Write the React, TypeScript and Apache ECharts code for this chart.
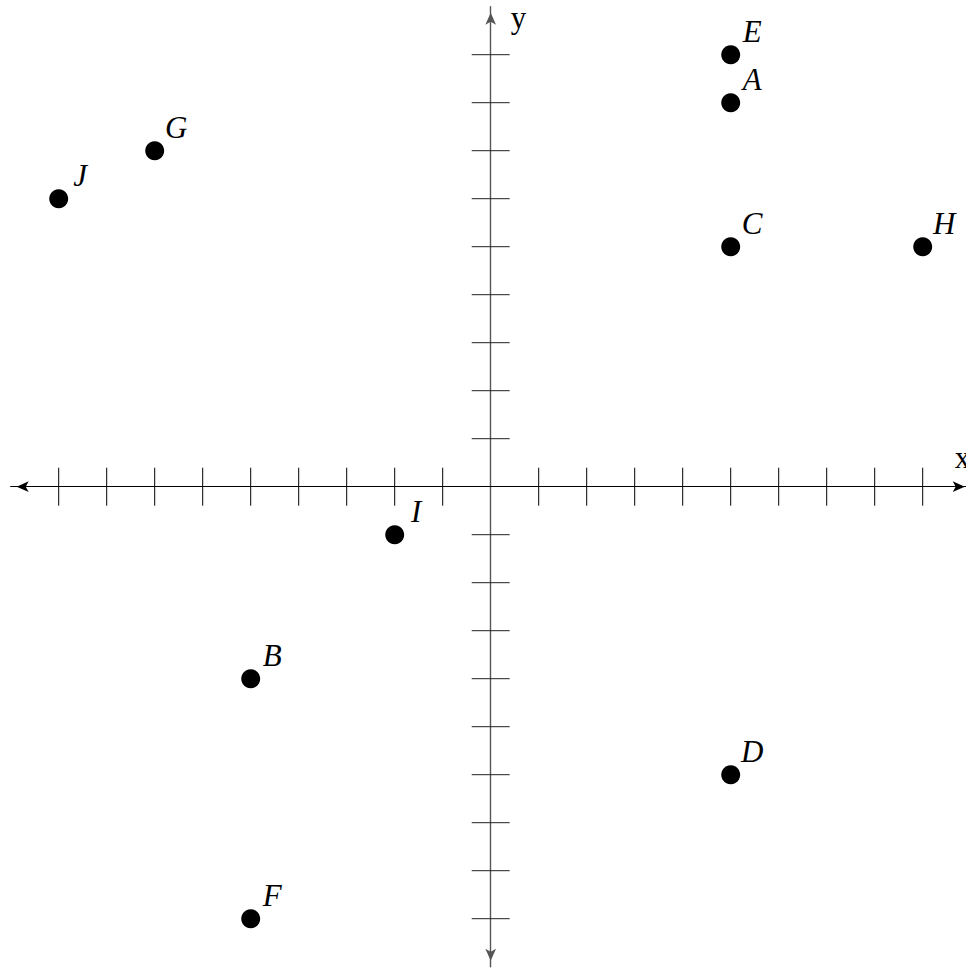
import React, { useEffect, useRef } from "react";
import * as echarts from "echarts";

const pointNames = ["E", "A", "C", "H", "G", "J", "I", "B", "D", "F"];
const pointX = [5, 5, 5, 9, -7, -9, -2, -5, 5, -5];
const pointY = [9, 8, 5, 5, 7, 6, -1, -4, -6, -9];
const xTicks = [-9, -8, -7, -6, -5, -4, -3, -2, -1, 1, 2, 3, 4, 5, 6, 7, 8, 9];
const yTicks = [-9, -8, -7, -6, -5, -4, -3, -2, -1, 1, 2, 3, 4, 5, 6, 7, 8, 9];
const axisMin = -10;
const axisMax = 10;

const FONT = "Liberation Serif";

export default function App() {
  const ref = useRef<HTMLDivElement>(null);
  useEffect(() => {
    if (!ref.current) return;
    const chart = echarts.init(ref.current, undefined, { renderer: "svg" });
    const pts = pointNames.map((n, i) => ({ name: n, value: [pointX[i], pointY[i]] }));
    const tickLen = 19;
    chart.setOption({
      animation: false,
      backgroundColor: "#fff",
      grid: {
        left: 10.7,
        top: 6.7,
        width: 960,
        height: 960,
        containLabel: false,
        outerBoundsMode: "none",
      },
      xAxis: {
        type: "value",
        min: axisMin,
        max: axisMax,
        interval: 1,
        name: "x",
        nameLocation: "end",
        nameGap: -16,
        nameTextStyle: {
          fontFamily: FONT,
          fontSize: 31,
          color: "#000",
          align: "left",
          verticalAlign: "bottom",
          padding: [0, 0, 14, 0],
        },
        axisLine: {
          onZero: true,
          symbol: ["arrow", "arrow"],
          symbolSize: [8, 12],
          symbolOffset: [6, -6],
          lineStyle: { color: "#000", width: 1.2 },
        },
        axisTick: { show: false },
        axisLabel: { show: false },
        splitLine: { show: false },
      },
      yAxis: {
        type: "value",
        min: axisMin,
        max: axisMax,
        interval: 1,
        name: "y",
        nameLocation: "end",
        nameGap: 0,
        nameTextStyle: {
          fontFamily: FONT,
          fontSize: 31,
          color: "#000",
          align: "left",
          verticalAlign: "top",
          padding: [-5, 0, 0, 20],
        },
        axisLine: {
          onZero: true,
          symbol: ["arrow", "arrow"],
          symbolSize: [8, 12],
          symbolOffset: [6, -6],
          lineStyle: { color: "#555", width: 1.4 },
        },
        axisTick: { show: false },
        axisLabel: { show: false },
        splitLine: { show: false },
      },
      series: [
        {
          type: "custom",
          data: xTicks.map((v) => [v, 0]),
          silent: true,
          renderItem: (params: any, api: any) => {
            const p = api.coord([api.value(0), api.value(1)]);
            return {
              type: "line",
              shape: { x1: p[0], y1: p[1] - tickLen, x2: p[0], y2: p[1] + tickLen },
              style: { stroke: "#000", lineWidth: 1 },
            };
          },
        },
        {
          type: "custom",
          data: yTicks.map((v) => [0, v]),
          silent: true,
          renderItem: (params: any, api: any) => {
            const p = api.coord([api.value(0), api.value(1)]);
            return {
              type: "line",
              shape: { x1: p[0] - tickLen, y1: p[1], x2: p[0] + tickLen, y2: p[1] },
              style: { stroke: "#222", lineWidth: 1 },
            };
          },
        },
        {
          type: "scatter",
          data: pts,
          symbol: "circle",
          symbolSize: 19,
          itemStyle: { color: "#000", opacity: 1 },
          label: {
            show: true,
            formatter: "{b}",
            position: [31, 2],
            align: "center",
            verticalAlign: "bottom",
            fontFamily: FONT,
            fontStyle: "italic",
            fontWeight: "normal",
            fontSize: 31,
            color: "#000",
            opacity: 1,
          },
        },
      ],
    });
    return () => chart.dispose();
  }, []);
  return (
    <div
      ref={ref}
      style={{ position: "fixed", left: 0, top: 0, width: 966, height: 968 }}
    />
  );
}
